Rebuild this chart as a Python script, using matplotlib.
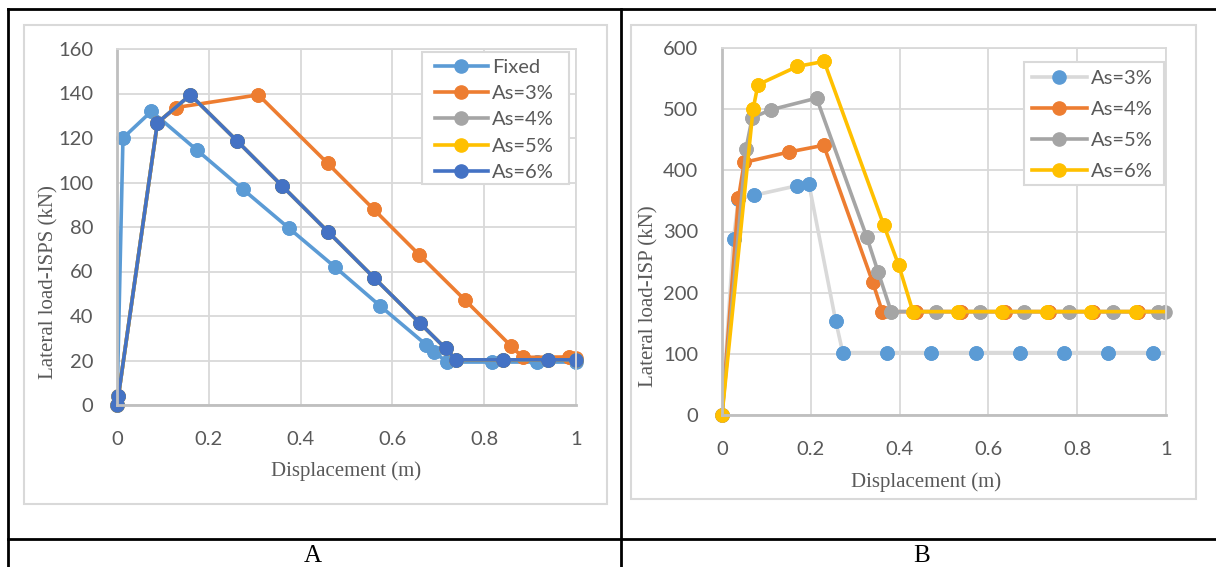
import matplotlib
matplotlib.use("Agg")
import matplotlib.pyplot as plt
from matplotlib.lines import Line2D
from matplotlib.patches import Rectangle

## Chart A: lateral load ISPS (kN) vs displacement (m)
a_fixed_x = [0, 0.013, 0.075, 0.174, 0.274, 0.375, 0.475, 0.574, 0.674, 0.691, 0.718, 0.817, 0.916, 1.0]
a_fixed_y = [0, 120, 132, 114.6, 97, 79.4, 62, 44.4, 27, 24, 19.3, 19.3, 19.3, 19.3]
a_as3_x = [0, 0.003, 0.088, 0.129, 0.308, 0.459, 0.559, 0.659, 0.759, 0.859, 0.884, 0.984, 1.0]
a_as3_y = [0, 4, 126.8, 133.7, 139.4, 108.6, 88, 67.4, 47, 26.4, 21.4, 21.6, 21.2]
a_as6_x = [0, 0.003, 0.088, 0.16, 0.261, 0.36, 0.46, 0.56, 0.66, 0.716, 0.739, 0.84, 0.94, 1.0]
a_as6_y = [0, 4, 126.8, 139.4, 118.8, 98.4, 77.8, 57.2, 36.8, 25.4, 20.3, 20.3, 20.3, 20.3]
## As=4% and As=5% lie under As=6% in chart A
a_as4_x, a_as4_y = a_as6_x, a_as6_y
a_as5_x, a_as5_y = a_as6_x, a_as6_y

## Chart B: lateral load ISP (kN) vs displacement (m)
b_as3_x = [0, 0.026, 0.037, 0.071, 0.170, 0.196, 0.256, 0.272, 0.371, 0.471, 0.571, 0.671, 0.771, 0.870, 0.970, 1.07]
b_as3_y = [0, 288, 353, 359, 375, 377, 154, 102, 102, 102, 102, 102, 102, 102, 102, 102]
b_as4_x = [0, 0.037, 0.050, 0.151, 0.229, 0.339, 0.361, 0.438, 0.538, 0.637, 0.736, 0.836, 0.936, 1.036]
b_as4_y = [0, 354, 413, 430, 441, 218, 169, 169, 169, 169, 169, 169, 169, 169]
b_as5_x = [0, 0.054, 0.068, 0.110, 0.213, 0.326, 0.352, 0.381, 0.481, 0.581, 0.681, 0.781, 0.881, 0.981, 0.998]
b_as5_y = [0, 435, 486, 499, 518, 291, 233, 169, 169, 169, 169, 169, 169, 169, 169]
b_as6_x = [0, 0.070, 0.081, 0.170, 0.230, 0.364, 0.398, 0.430, 0.531, 0.631, 0.732, 0.832, 0.932, 1.032]
b_as6_y = [0, 500, 540, 570, 578, 311, 245, 169, 169, 169, 169, 169, 169, 169]

x_ticks = [0, 0.2, 0.4, 0.6, 0.8, 1]
x_tick_labels = ["0", "0.2", "0.4", "0.6", "0.8", "1"]

W, H = 1216, 567
TICK_FONT = "Lato"
SERIF = "Liberation Serif"
GRAY_TXT = "#595959"
GRID = "#D9D9D9"


def fx(px):
    return px / W


def fy(py):
    return 1 - py / H


def make_axes(fig, left, right, top, bottom):
    return fig.add_axes([fx(left), fy(bottom), fx(right) - fx(left), fy(top) - fy(bottom)])


def frame_box(fig, l, t, r, b):
    fig.add_artist(Rectangle((fx(l), fy(b)), fx(r) - fx(l), fy(t) - fy(b), fill=False,
                             edgecolor=GRID, linewidth=1.5, transform=fig.transFigure, zorder=5))


def style_axes(ax, ymax, ystep):
    ax.set_xlim(0, 1)
    ax.set_ylim(0, ymax)
    ax.set_xticks(x_ticks)
    ax.set_xticklabels(x_tick_labels)
    ax.set_yticks(range(0, ymax + 1, ystep))
    ax.grid(True, color=GRID, linewidth=1.3)
    ax.set_axisbelow(True)
    for side in ["top", "right"]:
        ax.spines[side].set_color(GRID)
        ax.spines[side].set_linewidth(1.3)
    for side in ["left", "bottom"]:
        ax.spines[side].set_color("#BFBFBF")
        ax.spines[side].set_linewidth(2)
    ax.tick_params(length=0, labelsize=14.5, labelcolor=GRAY_TXT)
    ax.tick_params(axis="x", pad=19)
    ax.tick_params(axis="y", pad=17)
    for lab in ax.get_xticklabels() + ax.get_yticklabels():
        lab.set_family(TICK_FONT)


def series(ax, x, y, color, label, line_color=None):
    ax.plot(x, y, color=line_color or color, linewidth=2.6, marker="o", markersize=9.5,
            markerfacecolor=color, markeredgecolor=color, label=label)
    ## Excel does not clip markers sitting on the plot edge
    xin = [v for v in x if v <= 1.0]
    yin = [w for v, w in zip(x, y) if v <= 1.0]
    ax.plot(xin, yin, linestyle="none", marker="o", markersize=9.5,
            markerfacecolor=color, markeredgecolor=color, clip_on=False)


def add_legend(ax, fig, left, top, handlelength, spacing):
    leg = ax.legend(loc="upper left", bbox_to_anchor=(fx(left), fy(top)), bbox_transform=fig.transFigure,
                    prop={"family": TICK_FONT, "size": 14.5}, frameon=False,
                    handlelength=handlelength, handletextpad=0.2,
                    labelspacing=spacing, borderpad=0, borderaxespad=0)
    for t in leg.get_texts():
        t.set_color(GRAY_TXT)
    leg.set_zorder(10)
    return leg


fig = plt.figure(figsize=(W / 100, H / 100), dpi=100)

## Table lines around the two charts
for xs, ys in [((8, 8), (9, 567)), ((8, 1216), (9, 9)), ((621, 621), (9, 567)), ((8, 1216), (539, 539))]:
    fig.add_artist(Line2D([fx(v) for v in xs], [fy(v) for v in ys], color="black", linewidth=2,
                          transform=fig.transFigure))

## Chart frames
frame_box(fig, 24, 25, 607, 504)
frame_box(fig, 631, 25, 1196, 499)

## Chart A
ax1 = make_axes(fig, 117, 576, 49, 405)
style_axes(ax1, 160, 20)
series(ax1, a_fixed_x, a_fixed_y, "#5B9BD5", "Fixed")
series(ax1, a_as3_x, a_as3_y, "#ED7D31", "As=3%")
series(ax1, a_as4_x, a_as4_y, "#A5A5A5", "As=4%")
series(ax1, a_as5_x, a_as5_y, "#FFC000", "As=5%")
series(ax1, a_as6_x, a_as6_y, "#4472C4", "As=6%")
ax1.add_patch(Rectangle((fx(422), fy(184)), fx(569) - fx(422), fy(52) - fy(184), facecolor="white",
                        edgecolor=GRID, linewidth=1.5, transform=fig.transFigure, zorder=9))
add_legend(ax1, fig, 435, 59, 2.63, 0.45)
fig.text(fx(346), fy(471), "Displacement (m)", family=SERIF, size=15, color=GRAY_TXT,
         ha="center", va="center")
fig.text(fx(49), fy(282), "Lateral load-ISPS (kN)", family=SERIF, size=15, color=GRAY_TXT,
         ha="center", va="center", rotation=90)

## Chart B
ax2 = make_axes(fig, 722, 1166, 48, 415)
style_axes(ax2, 600, 100)
series(ax2, b_as3_x, b_as3_y, "#5B9BD5", "As=3%", line_color="#D9D9D9")
series(ax2, b_as4_x, b_as4_y, "#ED7D31", "As=4%")
series(ax2, b_as5_x, b_as5_y, "#A5A5A5", "As=5%")
series(ax2, b_as6_x, b_as6_y, "#FFC000", "As=6%")
ax2.add_patch(Rectangle((fx(1023.5), fy(185)), fx(1164) - fx(1023.5), fy(61.5) - fy(185), facecolor="white",
                        edgecolor=GRID, linewidth=1.5, transform=fig.transFigure, zorder=9))
add_legend(ax2, fig, 1032, 69.5, 2.73, 0.70)
fig.text(fx(926), fy(482), "Displacement (m)", family=SERIF, size=15, color=GRAY_TXT,
         ha="center", va="center")
fig.text(fx(649), fy(296), "Lateral load-ISP (kN)", family=SERIF, size=15, color=GRAY_TXT,
         ha="center", va="center", rotation=90)

## Bottom row captions
fig.text(fx(313), fy(556), "A", family=SERIF, size=18, color="black", ha="center", va="center")
fig.text(fx(922), fy(556), "B", family=SERIF, size=18, color="black", ha="center", va="center")

fig.savefig("out.png", dpi=100)
